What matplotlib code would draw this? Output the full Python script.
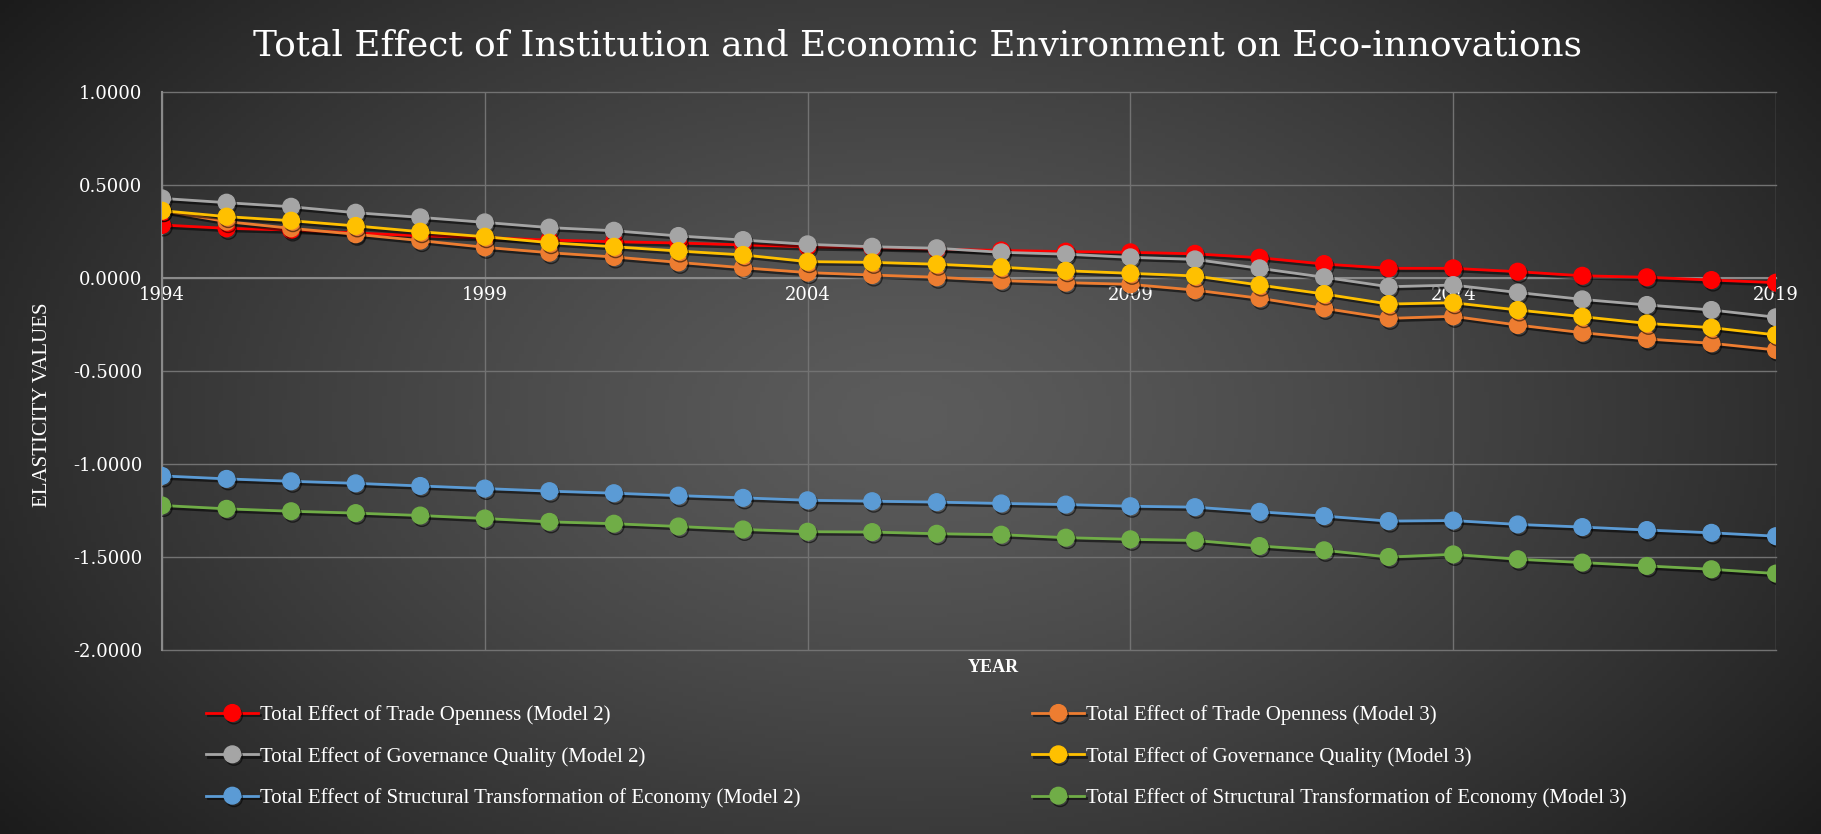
import numpy as np
import matplotlib
matplotlib.use("Agg")
import matplotlib.pyplot as plt
import matplotlib.patheffects as pe

# Data
years = list(range(1994, 2020))

trade_m2 = [0.285, 0.267, 0.258, 0.242, 0.227, 0.217, 0.204, 0.195, 0.188, 0.178,
            0.168, 0.163, 0.155, 0.148, 0.142, 0.138, 0.130, 0.109, 0.075, 0.052,
            0.052, 0.034, 0.012, 0.004, -0.011, -0.025]
trade_m3 = [0.362, 0.303, 0.267, 0.235, 0.201, 0.165, 0.136, 0.113, 0.084, 0.055,
            0.029, 0.016, 0.004, -0.014, -0.025, -0.034, -0.065, -0.109, -0.163, -0.217,
            -0.206, -0.253, -0.294, -0.328, -0.351, -0.387]
gov_m2 = [0.428, 0.405, 0.383, 0.351, 0.326, 0.299, 0.271, 0.254, 0.226, 0.204,
          0.181, 0.168, 0.160, 0.138, 0.128, 0.111, 0.100, 0.052, 0.004, -0.047,
          -0.038, -0.078, -0.115, -0.145, -0.172, -0.211]
gov_m3 = [0.362, 0.330, 0.308, 0.280, 0.249, 0.222, 0.190, 0.168, 0.145, 0.124,
          0.088, 0.084, 0.074, 0.058, 0.039, 0.025, 0.011, -0.038, -0.086, -0.140,
          -0.133, -0.172, -0.208, -0.244, -0.267, -0.306]
struct_m2 = [-1.064, -1.080, -1.093, -1.104, -1.118, -1.132, -1.146, -1.157, -1.170, -1.182,
             -1.195, -1.200, -1.205, -1.212, -1.218, -1.227, -1.232, -1.257, -1.280, -1.307,
             -1.304, -1.325, -1.339, -1.355, -1.370, -1.388]
struct_m3 = [-1.223, -1.241, -1.254, -1.264, -1.277, -1.293, -1.311, -1.321, -1.336, -1.352,
             -1.364, -1.366, -1.375, -1.380, -1.396, -1.405, -1.411, -1.441, -1.464, -1.500,
             -1.486, -1.512, -1.530, -1.548, -1.566, -1.589]

labels = ["Total Effect of Trade Openness (Model 2)",
          "Total Effect of Trade Openness (Model 3)",
          "Total Effect of Governance Quality (Model 2)",
          "Total Effect of Governance Quality (Model 3)",
          "Total Effect of Structural Transformation of Economy (Model 2)",
          "Total Effect of Structural Transformation of Economy (Model 3)"]
series = [trade_m2, trade_m3, gov_m2, gov_m3, struct_m2, struct_m3]
colors = ["#FF0000", "#ED7D31", "#A5A5A5", "#FFC000", "#5B9BD5", "#70AD47"]

year_ticks = [1994, 1999, 2004, 2009, 2014, 2019]
y_ticks = [1.0, 0.5, 0.0, -0.5, -1.0, -1.5, -2.0]

serif = ["Liberation Serif", "DejaVu Serif"]
wide_serif = ["DejaVu Serif"]
W, H = 1821, 834
fig = plt.figure(figsize=(W / 100, H / 100), dpi=100)

# radial gradient background
bg = fig.add_axes([0, 0, 1, 1], zorder=-10)
gx, gy = np.meshgrid(np.linspace(0, 1, 400), np.linspace(0, 1, 200))
d = np.sqrt(((gx - 0.5) / 0.60) ** 2 + ((gy - 0.50) / 0.80) ** 2)
shade = np.clip(0.36 - 0.24 * d ** 1.3, 0.1, 1)
bg.imshow(np.dstack([shade, shade, shade]), aspect="auto", extent=[0, 1, 0, 1], origin="upper")
bg.axis("off")

ax = fig.add_axes([162 / W, 1 - 650 / H, (1776 - 162) / W, (650 - 92) / H])
ax.set_facecolor("none")

shadow = [pe.SimpleLineShadow(offset=(1.2, -1.8), shadow_color="black", alpha=0.55), pe.Normal()]
handles = []
for vals, col, lab in zip(series, colors, labels):
    h, = ax.plot(years, vals, color=col, lw=2.0, marker="o", ms=12, mec=col, mfc=col,
                 label=lab, path_effects=shadow, zorder=3)
    handles.append(h)

ax.set_xlim(1994, 2019)
ax.set_ylim(-2, 1)
ax.set_xticks(year_ticks)
ax.set_yticks(y_ticks)
ax.set_yticklabels(["%.4f" % v for v in y_ticks])
ax.grid(True, color="#727272", lw=1.0)
for gl in ax.get_xgridlines() + ax.get_ygridlines():
    gl.set_clip_on(False)
ax.spines["top"].set_visible(False)
ax.spines["right"].set_visible(False)
ax.spines["bottom"].set_position(("data", 0))
ax.spines["bottom"].set_color("#8a8a8a")
ax.spines["left"].set_color("#8a8a8a")
ax.spines["bottom"].set_linewidth(1.5)
ax.spines["left"].set_linewidth(1.5)
ax.tick_params(length=0, colors="white", labelsize=13)
ax.tick_params(axis="y", pad=14)
ax.tick_params(axis="x", pad=6)
for t in ax.get_xticklabels() + ax.get_yticklabels():
    t.set_family(wide_serif)

fig.text(0.504, 1 - 45 / H, "Total Effect of Institution and Economic Environment on Eco-innovations",
         ha="center", va="center", color="white", fontsize=25.8, family=wide_serif)
fig.text(43 / W, 1 - 405 / H, "ELASTICITY VALUES", rotation=90, ha="center", va="center",
         color="white", fontsize=15, family=serif)
fig.text(993 / W, 1 - 668 / H, "YEAR", ha="center", va="center", color="white",
         fontsize=13, family=serif, weight="bold")

legend_kw = dict(frameon=False, labelcolor="white", handlelength=2.5,
                 handletextpad=0.1, labelspacing=1.03, borderaxespad=0,
                 prop={"family": serif, "size": 15})
leg1 = fig.legend([handles[0], handles[2], handles[4]], [labels[0], labels[2], labels[4]],
                  loc="upper left", bbox_to_anchor=(198 / W, 1 - 697 / H), **legend_kw)
leg2 = fig.legend([handles[1], handles[3], handles[5]], [labels[1], labels[3], labels[5]],
                  loc="upper left", bbox_to_anchor=(1024 / W, 1 - 697 / H), **legend_kw)

fig.savefig("out.png", dpi=100)
